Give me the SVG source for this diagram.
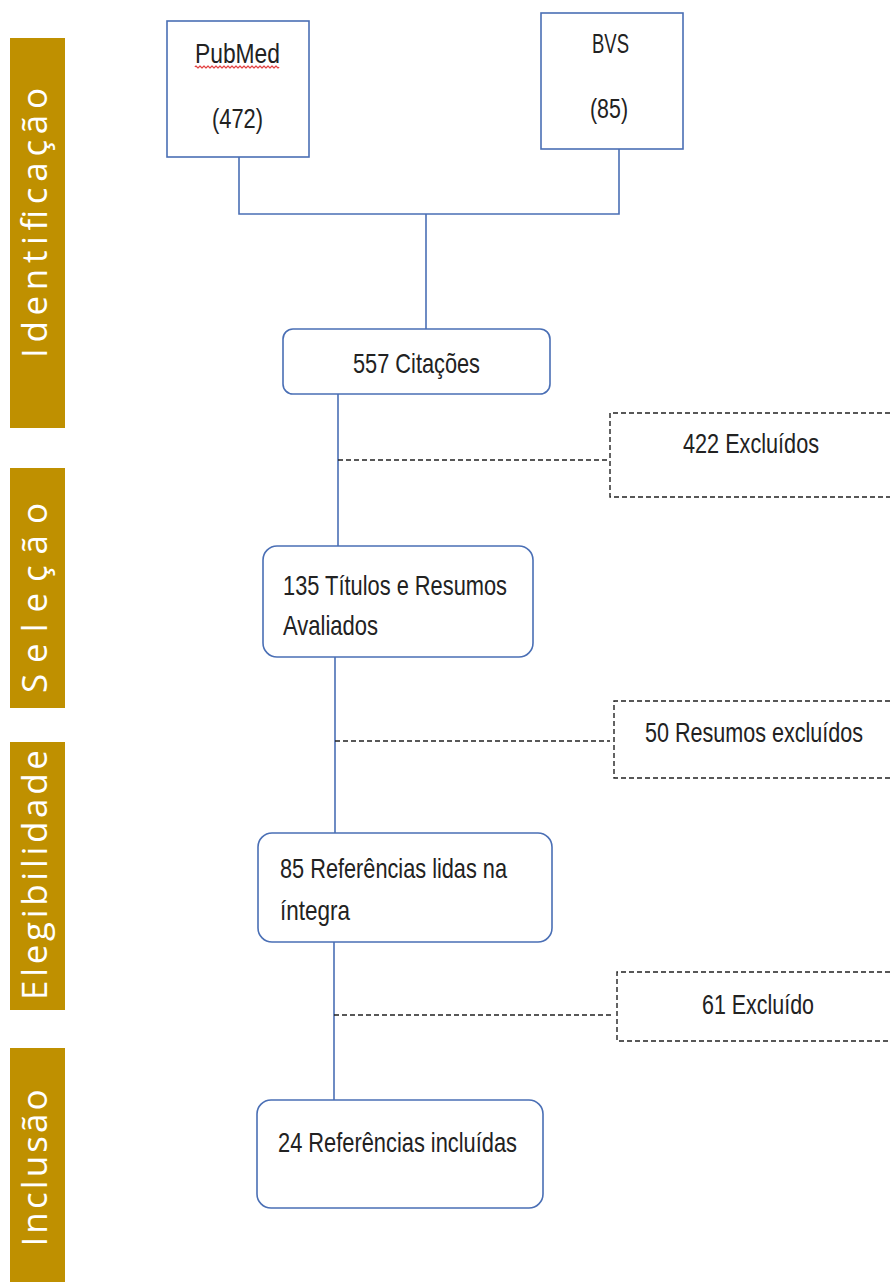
<svg xmlns="http://www.w3.org/2000/svg" width="890" height="1282" viewBox="0 0 890 1282">
<style>
.bar{fill:#BF9000}
.bt{font-family:"Open Sans","DejaVu Sans",sans-serif;font-size:35px;fill:#ffffff;text-anchor:middle}
.box{fill:#ffffff;stroke:#4A6FB5;stroke-width:1.6}
.dbox{fill:#ffffff;stroke:#222222;stroke-width:1.4;stroke-dasharray:5 3}
.t{font-family:"Liberation Sans",Arial,sans-serif;font-size:28px;fill:#222222}
.ln{stroke:#4A6FB5;stroke-width:1.6;fill:none}
.dl{stroke:#222222;stroke-width:1.4;stroke-dasharray:5 3;fill:none}
</style>
<g id="bars">
<rect class="bar" x="10" y="38" width="55" height="390"/>
<text class="bt" transform="translate(47,223) rotate(-90)" textLength="270" lengthAdjust="spacing">Identificação</text>
<rect class="bar" x="10" y="468" width="55" height="240"/>
<text class="bt" transform="translate(47,598) rotate(-90)" textLength="190" lengthAdjust="spacing">Seleção</text>
<rect class="bar" x="10" y="742" width="55" height="268"/>
<text class="bt" transform="translate(47,875) rotate(-90)" textLength="250" lengthAdjust="spacing">Elegibilidade</text>
<rect class="bar" x="10" y="1048" width="55" height="240"/>
<text class="bt" transform="translate(47,1168) rotate(-90)" textLength="157" lengthAdjust="spacing">Inclusão</text>
</g>
<g id="connectors">
<polyline class="ln" points="239,157 239,214 619,214 619,149"/>
<line class="ln" x1="426" y1="214" x2="426" y2="329"/>
<line class="ln" x1="338" y1="394" x2="338" y2="546"/>
<line class="ln" x1="335" y1="657" x2="335" y2="833"/>
<line class="ln" x1="334" y1="942" x2="334" y2="1100"/>
<line class="dl" x1="338" y1="460" x2="607" y2="460"/>
<line class="dl" x1="335" y1="741" x2="610" y2="741"/>
<line class="dl" x1="334" y1="1015" x2="612" y2="1015"/>
</g>
<g id="pubmed">
<rect class="box" x="167" y="21" width="142" height="136"/>
<text class="t" x="195" y="63" textLength="85" lengthAdjust="spacingAndGlyphs">PubMed</text>
<path d="M195,67 q1,-2 2,0 t2,0 t2,0 t2,0 t2,0 t2,0 t2,0 t2,0 t2,0 t2,0 t2,0 t2,0 t2,0 t2,0 t2,0 t2,0 t2,0 t2,0 t2,0 t2,0 t2,0 t2,0 t2,0 t2,0 t2,0 t2,0 t2,0 t2,0 t2,0 t2,0 t2,0 t2,0 t2,0 t2,0 t2,0 t2,0 t2,0 t2,0 t2,0 t2,0 t2,0 t2,0" fill="none" stroke="#E03030" stroke-width="1.2"/>
<text class="t" x="212" y="128" textLength="51" lengthAdjust="spacingAndGlyphs">(472)</text>
</g>
<g id="bvs">
<rect class="box" x="541" y="13" width="142" height="136"/>
<text class="t" x="592" y="53" textLength="37" lengthAdjust="spacingAndGlyphs">BVS</text>
<text class="t" x="590" y="118" textLength="38" lengthAdjust="spacingAndGlyphs">(85)</text>
</g>
<g id="citacoes">
<rect class="box" x="283" y="329" width="267" height="65" rx="10"/>
<text class="t" x="353" y="373" textLength="127" lengthAdjust="spacingAndGlyphs">557 Citações</text>
</g>
<g id="excluidos1">
<path class="dbox" d="M890,413 H610 V497 H890"/>
<text class="t" x="683" y="453" textLength="136" lengthAdjust="spacingAndGlyphs">422 Excluídos</text>
</g>
<g id="titulos">
<rect class="box" x="263" y="546" width="270" height="111" rx="14"/>
<text class="t" x="283" y="595" textLength="224" lengthAdjust="spacingAndGlyphs">135 Títulos e Resumos</text>
<text class="t" x="283" y="635" textLength="95" lengthAdjust="spacingAndGlyphs">Avaliados</text>
</g>
<g id="excluidos2">
<path class="dbox" d="M890,701 H614 V778 H890"/>
<text class="t" transform="translate(645,742) scale(0.77,1)" x="0" y="0">50 Resumos excluídos</text>
</g>
<g id="referencias">
<rect class="box" x="258" y="833" width="294" height="109" rx="14"/>
<text class="t" x="280" y="878" textLength="227" lengthAdjust="spacingAndGlyphs">85 Referências lidas na</text>
<text class="t" x="280" y="920" textLength="70" lengthAdjust="spacingAndGlyphs">íntegra</text>
</g>
<g id="excluidos3">
<path class="dbox" d="M890,972 H617 V1041 H890"/>
<text class="t" x="702" y="1014" textLength="112" lengthAdjust="spacingAndGlyphs">61 Excluído</text>
</g>
<g id="incluidas">
<rect class="box" x="257" y="1100" width="286" height="108" rx="14"/>
<text class="t" x="278" y="1152" textLength="239" lengthAdjust="spacingAndGlyphs">24 Referências incluídas</text>
</g>
</svg>
